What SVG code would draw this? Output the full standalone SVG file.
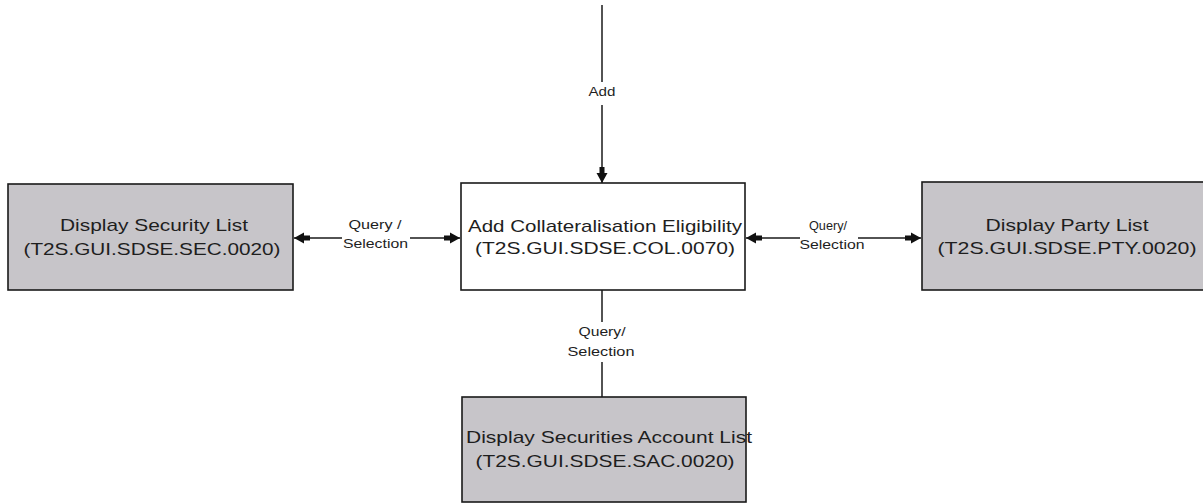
<svg xmlns="http://www.w3.org/2000/svg" width="1203" height="503" viewBox="0 0 1203 503">
<defs>
<style>
.box{stroke:#1a1a1a;stroke-width:1.6}
.grey{fill:#c7c5c9}
.white{fill:#ffffff}
.t{font-family:"Liberation Sans",Arial,sans-serif;font-size:17px;fill:#1e1e1e;text-anchor:middle}
.lbl{font-family:"Liberation Sans",Arial,sans-serif;font-size:12px;fill:#1e1e1e;text-anchor:middle}
.ln{stroke:#1a1a1a;stroke-width:1.5;fill:none}
</style>
<marker id="ah" markerUnits="userSpaceOnUse" markerWidth="18" markerHeight="14" refX="16" refY="7" orient="auto-start-reverse">
<path d="M0,4.5 L6,4.5 L6,1.5 L16,7 L6,12.5 L6,9.5 L0,9.5 z" fill="#111"/>
</marker>
</defs>
<rect width="1203" height="503" fill="#ffffff"/>
<g id="connectors">
<line class="ln" x1="602" y1="5" x2="602" y2="82"/>
<line class="ln" x1="602" y1="105" x2="602" y2="183" marker-end="url(#ah)"/>
<line class="ln" x1="294" y1="238" x2="342" y2="238" marker-start="url(#ah)"/>
<line class="ln" x1="410" y1="238" x2="460" y2="238" marker-end="url(#ah)"/>
<line class="ln" x1="746" y1="238" x2="800" y2="238" marker-start="url(#ah)"/>
<line class="ln" x1="858" y1="238" x2="921" y2="238" marker-end="url(#ah)"/>
<line class="ln" x1="602" y1="290" x2="602" y2="322"/>
<line class="ln" x1="602" y1="362" x2="602" y2="397"/>
<text class="lbl" x="602" y="96" textLength="27" lengthAdjust="spacingAndGlyphs">Add</text>
<text class="lbl" x="375" y="229" textLength="53" lengthAdjust="spacingAndGlyphs">Query /</text>
<text class="lbl" x="375.5" y="248" textLength="65" lengthAdjust="spacingAndGlyphs">Selection</text>
<text class="lbl" x="828" y="230" textLength="38" lengthAdjust="spacingAndGlyphs">Query/</text>
<text class="lbl" x="832" y="249" textLength="65" lengthAdjust="spacingAndGlyphs">Selection</text>
<text class="lbl" x="602" y="336" textLength="47" lengthAdjust="spacingAndGlyphs">Query/</text>
<text class="lbl" x="601" y="356" textLength="67" lengthAdjust="spacingAndGlyphs">Selection</text>
</g>
<g id="node-security">
<rect class="box grey" x="8" y="184" width="285" height="106"/>
<text class="t" x="154" y="231" textLength="188" lengthAdjust="spacingAndGlyphs">Display Security List</text>
<text class="t" x="152" y="255" textLength="257" lengthAdjust="spacingAndGlyphs">(T2S.GUI.SDSE.SEC.0020)</text>
</g>
<g id="node-collateral">
<rect class="box white" x="461" y="183" width="284" height="107"/>
<text class="t" x="605" y="232" textLength="274" lengthAdjust="spacingAndGlyphs">Add Collateralisation Eligibility</text>
<text class="t" x="605" y="254" textLength="260" lengthAdjust="spacingAndGlyphs">(T2S.GUI.SDSE.COL.0070)</text>
</g>
<g id="node-party">
<rect class="box grey" x="922" y="182" width="290" height="108"/>
<text class="t" x="1067" y="231" textLength="163" lengthAdjust="spacingAndGlyphs">Display Party List</text>
<text class="t" x="1067" y="254" textLength="259" lengthAdjust="spacingAndGlyphs">(T2S.GUI.SDSE.PTY.0020)</text>
</g>
<g id="node-account">
<rect class="box grey" x="462" y="397" width="284" height="105"/>
<text class="t" x="609" y="443" textLength="286" lengthAdjust="spacingAndGlyphs">Display Securities Account List</text>
<text class="t" x="605" y="467" textLength="259" lengthAdjust="spacingAndGlyphs">(T2S.GUI.SDSE.SAC.0020)</text>
</g>
</svg>
